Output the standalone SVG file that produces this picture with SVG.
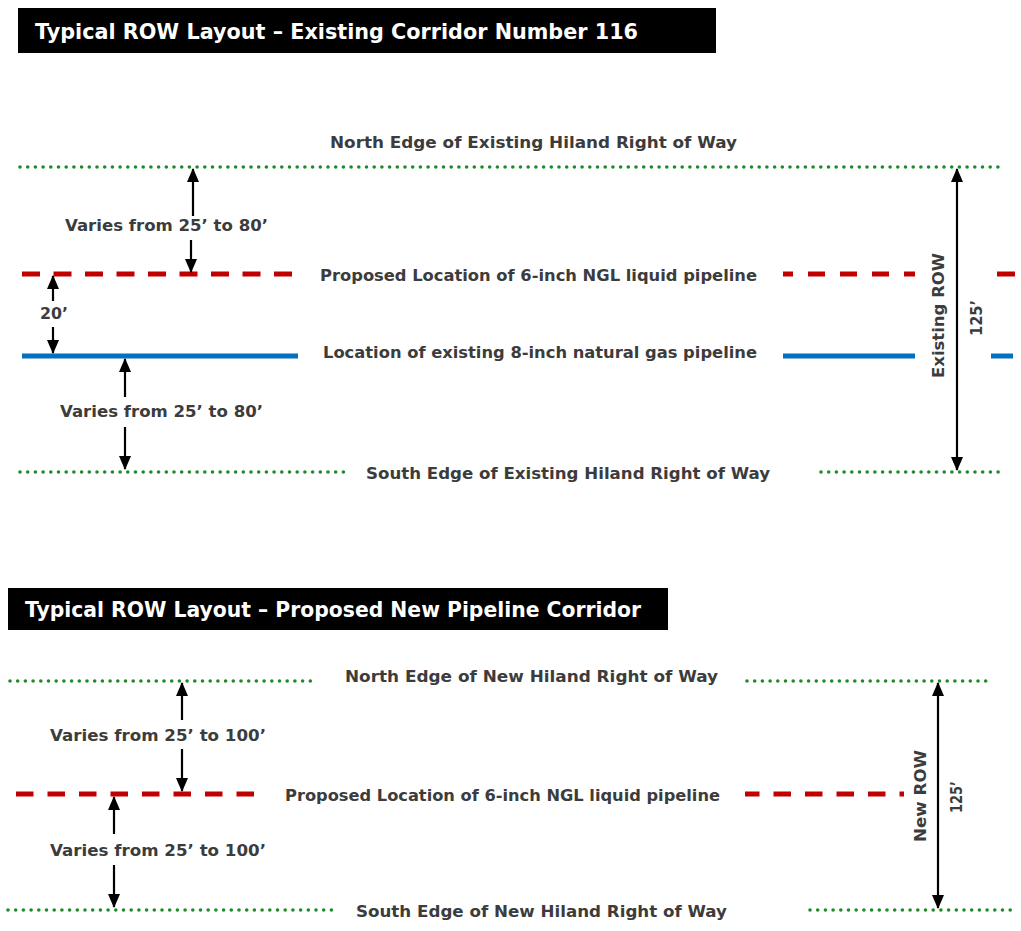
<svg xmlns="http://www.w3.org/2000/svg" width="1021" height="931" viewBox="0 0 1021 931">
<defs>
<marker id="ah" viewBox="0 0 14 12" refX="13" refY="6" markerWidth="14" markerHeight="12" markerUnits="userSpaceOnUse" orient="auto-start-reverse">
<path d="M0,0 L14,6 L0,12 Z" fill="#000"/>
</marker>
<style>
.title{font-family:"DejaVu Sans","Liberation Sans",sans-serif;font-size:21px;fill:#fff;font-weight:bold}
.lbl{font-family:"DejaVu Sans","Liberation Sans",sans-serif;font-size:16px;font-weight:bold;fill:#3c3c3c}
.dot{stroke:#1f8a2a;stroke-width:3.6;stroke-dasharray:0 7.7;stroke-linecap:round;fill:none}
.red{stroke:#c00000;stroke-width:5;fill:none}
.blue{stroke:#0070c0;stroke-width:5;fill:none}
.arr{stroke:#000;stroke-width:2.2;fill:none;marker-end:url(#ah)}
.dbl{stroke:#000;stroke-width:2.2;fill:none;marker-end:url(#ah);marker-start:url(#ah)}
</style>
</defs>
<rect width="1021" height="931" fill="#fff"/>

<g id="title1">
<rect x="18" y="8" width="698" height="45" fill="#000"/>
<text class="title" x="35" y="39" textLength="603" lengthAdjust="spacingAndGlyphs">Typical ROW Layout – Existing Corridor Number 116</text>
</g>
<g id="title2">
<rect x="8" y="588" width="660" height="42" fill="#000"/>
<text class="title" x="25" y="617" textLength="616" lengthAdjust="spacingAndGlyphs">Typical ROW Layout – Proposed New Pipeline Corridor</text>
</g>

<g id="lines1">
<line class="dot" x1="20" y1="167" x2="1004" y2="167"/>
<line class="red" x1="22" y1="274" x2="292" y2="274" stroke-dasharray="18 13.5"/>
<line class="red" x1="783" y1="274" x2="915" y2="274" stroke-dasharray="17 15" stroke-dashoffset="7"/>
<line class="red" x1="997" y1="274" x2="1015" y2="274"/>
<line class="blue" x1="22" y1="356" x2="298" y2="356"/>
<line class="blue" x1="783" y1="356" x2="915" y2="356"/>
<line class="blue" x1="991" y1="356" x2="1013" y2="356"/>
<line class="dot" x1="20" y1="472" x2="346" y2="472"/>
<line class="dot" x1="821" y1="472" x2="1005" y2="472"/>
</g>

<g id="lines2">
<line class="dot" x1="10" y1="681" x2="317" y2="681"/>
<line class="dot" x1="747" y1="681" x2="993" y2="681"/>
<line class="red" x1="16" y1="794" x2="256" y2="794" stroke-dasharray="17.5 14"/>
<line class="red" x1="745" y1="794" x2="904" y2="794" stroke-dasharray="17.5 14" stroke-dashoffset="3"/>
<line class="dot" x1="8" y1="910" x2="336" y2="910"/>
<line class="dot" x1="810" y1="910" x2="1012" y2="910"/>
</g>

<g id="connectors">
<line class="arr" x1="193" y1="216" x2="193" y2="169"/>
<line class="arr" x1="191" y1="240" x2="191" y2="272"/>
<line class="arr" x1="53" y1="301" x2="53" y2="276"/>
<line class="arr" x1="53" y1="327" x2="53" y2="353"/>
<line class="arr" x1="125" y1="397" x2="125" y2="359"/>
<line class="arr" x1="125" y1="427" x2="125" y2="469"/>
<line class="dbl" x1="957" y1="169" x2="957" y2="470"/>
<line class="arr" x1="182" y1="720" x2="182" y2="683"/>
<line class="arr" x1="182" y1="749" x2="182" y2="791"/>
<line class="arr" x1="114" y1="834" x2="114" y2="797"/>
<line class="arr" x1="114" y1="865" x2="114" y2="907"/>
<line class="dbl" x1="938" y1="683" x2="938" y2="908"/>
</g>

<g id="labels1">
<text class="lbl" x="330" y="148" textLength="407" lengthAdjust="spacingAndGlyphs">North Edge of Existing Hiland Right of Way</text>
<text class="lbl" x="65" y="231" textLength="203" lengthAdjust="spacingAndGlyphs">Varies from 25’ to 80’</text>
<text class="lbl" x="320" y="281" textLength="437" lengthAdjust="spacingAndGlyphs">Proposed Location of 6-inch NGL liquid pipeline</text>
<text class="lbl" x="40" y="319" textLength="28" lengthAdjust="spacingAndGlyphs">20’</text>
<text class="lbl" x="323" y="358" textLength="434" lengthAdjust="spacingAndGlyphs">Location of existing 8-inch natural gas pipeline</text>
<text class="lbl" x="60" y="417" textLength="203" lengthAdjust="spacingAndGlyphs">Varies from 25’ to 80’</text>
<text class="lbl" x="366" y="479" textLength="404" lengthAdjust="spacingAndGlyphs">South Edge of Existing Hiland Right of Way</text>
<text class="lbl" transform="translate(944,378) rotate(-90)" x="0" y="0" textLength="125" lengthAdjust="spacingAndGlyphs">Existing ROW</text>
<text class="lbl" transform="translate(982,336) rotate(-90)" x="0" y="0" textLength="36" lengthAdjust="spacingAndGlyphs">125’</text>
</g>

<g id="labels2">
<text class="lbl" x="345" y="682" textLength="373" lengthAdjust="spacingAndGlyphs">North Edge of New Hiland Right of Way</text>
<text class="lbl" x="50" y="741" textLength="216" lengthAdjust="spacingAndGlyphs">Varies from 25’ to 100’</text>
<text class="lbl" x="285" y="801" textLength="435" lengthAdjust="spacingAndGlyphs">Proposed Location of 6-inch NGL liquid pipeline</text>
<text class="lbl" x="50" y="856" textLength="216" lengthAdjust="spacingAndGlyphs">Varies from 25’ to 100’</text>
<text class="lbl" x="356" y="917" textLength="371" lengthAdjust="spacingAndGlyphs">South Edge of New Hiland Right of Way</text>
<text class="lbl" transform="translate(926,842) rotate(-90)" x="0" y="0" textLength="92" lengthAdjust="spacingAndGlyphs">New ROW</text>
<text class="lbl" transform="translate(962,813) rotate(-90)" x="0" y="0" textLength="32" lengthAdjust="spacingAndGlyphs">125’</text>
</g>
</svg>
